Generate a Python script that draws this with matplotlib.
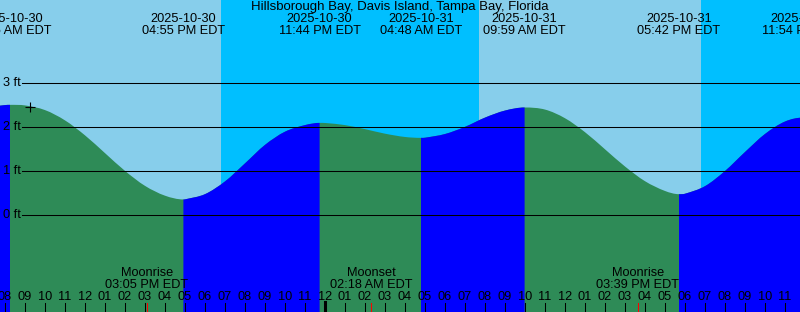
import numpy as np
import matplotlib.pyplot as plt
from matplotlib.path import Path
from matplotlib.patches import PathPatch

# 潮位曲线：时间 = 2025-10-30 00:00 EDT 之后的小时数，高度单位 ft
hours = [7, 8, 8.25, 9, 10, 11, 12, 13, 14, 15, 16, 16.92, 17, 18, 19, 20, 21, 22, 23,
         23.73, 24, 25, 26, 27, 28, 28.8, 29, 30, 31, 32, 33, 33.98, 35, 36, 37, 38, 39,
         40, 41, 41.7, 42, 43, 44, 45, 46, 47, 47.9, 48]
heights = [2.45, 2.505, 2.51, 2.497, 2.391, 2.157, 1.817, 1.413, 1.009, 0.669, 0.446, 0.36,
           0.362, 0.48, 0.77, 1.18, 1.60, 1.90, 2.05, 2.10, 2.098, 2.05, 1.958, 1.855, 1.78,
           1.76, 1.763, 1.847, 2.01, 2.22, 2.38, 2.45, 2.403, 2.206, 1.889, 1.50, 1.109,
           0.775, 0.553, 0.48, 0.49, 0.662, 1.007, 1.438, 1.848, 2.131, 2.22, 2.22]

# 高低潮
ext_hours = [8.25, 16.92, 23.73, 28.8, 33.98, 41.7, 47.9]
ext_heights = [2.51, 0.36, 2.10, 1.76, 2.45, 0.48, 2.22]
ext_dates = ['2025-10-30', '2025-10-30', '2025-10-30', '2025-10-31',
             '2025-10-31', '2025-10-31', '2025-10-31']
ext_times = ['08:15 AM EDT', '04:55 PM EDT', '11:44 PM EDT', '04:48 AM EDT',
             '09:59 AM EDT', '05:42 PM EDT', '11:54 PM EDT']

# 日落 / 日出
sunset_hours = [18.8, 42.8]
sunrise_hours = [31.7]

# 月出月落
moon_events = ['Moonrise', 'Moonset', 'Moonrise']
moon_times = ['03:05 PM EDT', '02:18 AM EDT', '03:39 PM EDT']
moon_hours = [15.083, 26.3, 39.65]

title = 'Hillsborough Bay, Davis Island, Tampa Bay, Florida'
ft_levels = [0, 1, 2, 3]

DAY = '#87CEEB'
NIGHT = '#00BFFF'
FLOOD = '#0000FF'
EBB = '#2E8B57'

plt.rcParams['font.family'] = ['Liberation Sans', 'DejaVu Sans']
FS = 9.2

W, H = 800, 312
fig = plt.figure(figsize=(W / 100, H / 100), dpi=100)
ax = fig.add_axes([0, 0, 1, 1])
ax.set_axis_off()

# 像素 -> 数据坐标（20 px / 小时, 44 px / ft）
x0_hour = (0 + 155) / 20.0
x1_hour = (W + 155) / 20.0
y_zero, px_per_ft = 215.3, 44.0
ax.set_xlim(x0_hour, x1_hour)
ax.set_ylim((y_zero - H) / px_per_ft, y_zero / px_per_ft)
ymin = (y_zero - H) / px_per_ft

def yfrac(ypx):
    return 1 - ypx / H

# 背景：昼/夜
ax.axvspan(x0_hour, x1_hour, color=DAY, zorder=0, lw=0)
ax.axvspan(sunset_hours[0], sunrise_hours[0], color=NIGHT, zorder=0.5, lw=0)
ax.axvspan(sunset_hours[1], x1_hour, color=NIGHT, zorder=0.5, lw=0)

# 潮位曲线：经过各读数点的平滑贝塞尔路径，高低潮处切线水平
t = np.array(hours)
h = np.array(heights)
n = len(t)
slope = np.zeros(n)
for i in range(n):
    if hours[i] in ext_hours:
        slope[i] = 0.0
    elif i == 0:
        slope[i] = (h[1] - h[0]) / (t[1] - t[0])
    elif i == n - 1:
        slope[i] = (h[-1] - h[-2]) / (t[-1] - t[-2])
    else:
        slope[i] = (h[i + 1] - h[i - 1]) / (t[i + 1] - t[i - 1])


def area_path(i0, i1):
    verts = [(t[i0], ymin), (t[i0], h[i0])]
    codes = [Path.MOVETO, Path.LINETO]
    for i in range(i0, i1):
        dt = t[i + 1] - t[i]
        verts += [(t[i] + dt / 3, h[i] + slope[i] * dt / 3),
                  (t[i + 1] - dt / 3, h[i + 1] - slope[i + 1] * dt / 3),
                  (t[i + 1], h[i + 1])]
        codes += [Path.CURVE4] * 3
    verts += [(t[i1], ymin), (t[i0], ymin)]
    codes += [Path.LINETO, Path.CLOSEPOLY]
    return Path(verts, codes)


# 落潮绿色（整体先画），涨潮蓝色覆盖
ax.add_patch(PathPatch(area_path(0, n - 1), facecolor=EBB, lw=0, zorder=1))
ext_idx = [hours.index(e) for e in ext_hours]
seg_bounds = [0] + ext_idx + [n - 1]
seg_h = [heights[0]] + ext_heights + [heights[-1]]
for k in range(len(seg_bounds) - 1):
    i0, i1 = seg_bounds[k], seg_bounds[k + 1]
    if i1 <= i0:
        continue
    if h[i1] > h[i0] or (k == len(seg_bounds) - 2 and ext_heights[-1] > ext_heights[-2]):
        ax.add_patch(PathPatch(area_path(i0, i1), facecolor=FLOOD, lw=0, zorder=1.5))

# 水位线
for lv in ft_levels:
    ax.plot([(22 + 155) / 20.0, x1_hour], [lv, lv], color='black', lw=0.75, zorder=3)
    ax.text(3 / 20.0 + x0_hour, lv, f'{lv} ft', fontsize=FS, ha='left', va='center', zorder=4)

# 当前时刻标记
ax.plot([9.25], [2.46], marker='+', color='black', markersize=7, mew=0.8, zorder=4)

# 顶部标题和高低潮标签
xt = ax.get_xaxis_transform()
ax.text(0.5, yfrac(7), title, transform=ax.transAxes, fontsize=FS + 0.3,
        ha='center', va='center', zorder=5)
for eh, d, tm in zip(ext_hours, ext_dates, ext_times):
    ax.text(eh, yfrac(19.5), d, transform=xt, fontsize=FS, ha='center', va='center', zorder=5)
    ax.text(eh, yfrac(31.3), tm, transform=xt, fontsize=FS, ha='center', va='center', zorder=5)

# 月出月落标签
for mh, ev, tm in zip(moon_hours, moon_events, moon_times):
    ax.text(mh, yfrac(273.5), ev, transform=xt, fontsize=FS, ha='center', va='center', zorder=5)
    ax.text(mh, yfrac(285.5), tm, transform=xt, fontsize=FS, ha='center', va='center', zorder=5)
    ax.plot([mh, mh], [0, 9 / H], transform=xt, color='red', lw=0.75, zorder=5)

# 小时刻度
for hr in range(8, 48):
    lab = f'{(hr % 12) or 12:02d}'
    ax.text(hr, yfrac(297.5), lab, transform=xt, fontsize=FS, ha='center', va='center', zorder=5)
    if hr % 24 == 0:
        ax.plot([hr, hr], [0, 10 / H], transform=xt, color='black', lw=2.2, zorder=5)
    else:
        ax.plot([hr, hr], [0, 9 / H], transform=xt, color='black', lw=0.75, zorder=5)

fig.savefig('out.png', dpi=100)
